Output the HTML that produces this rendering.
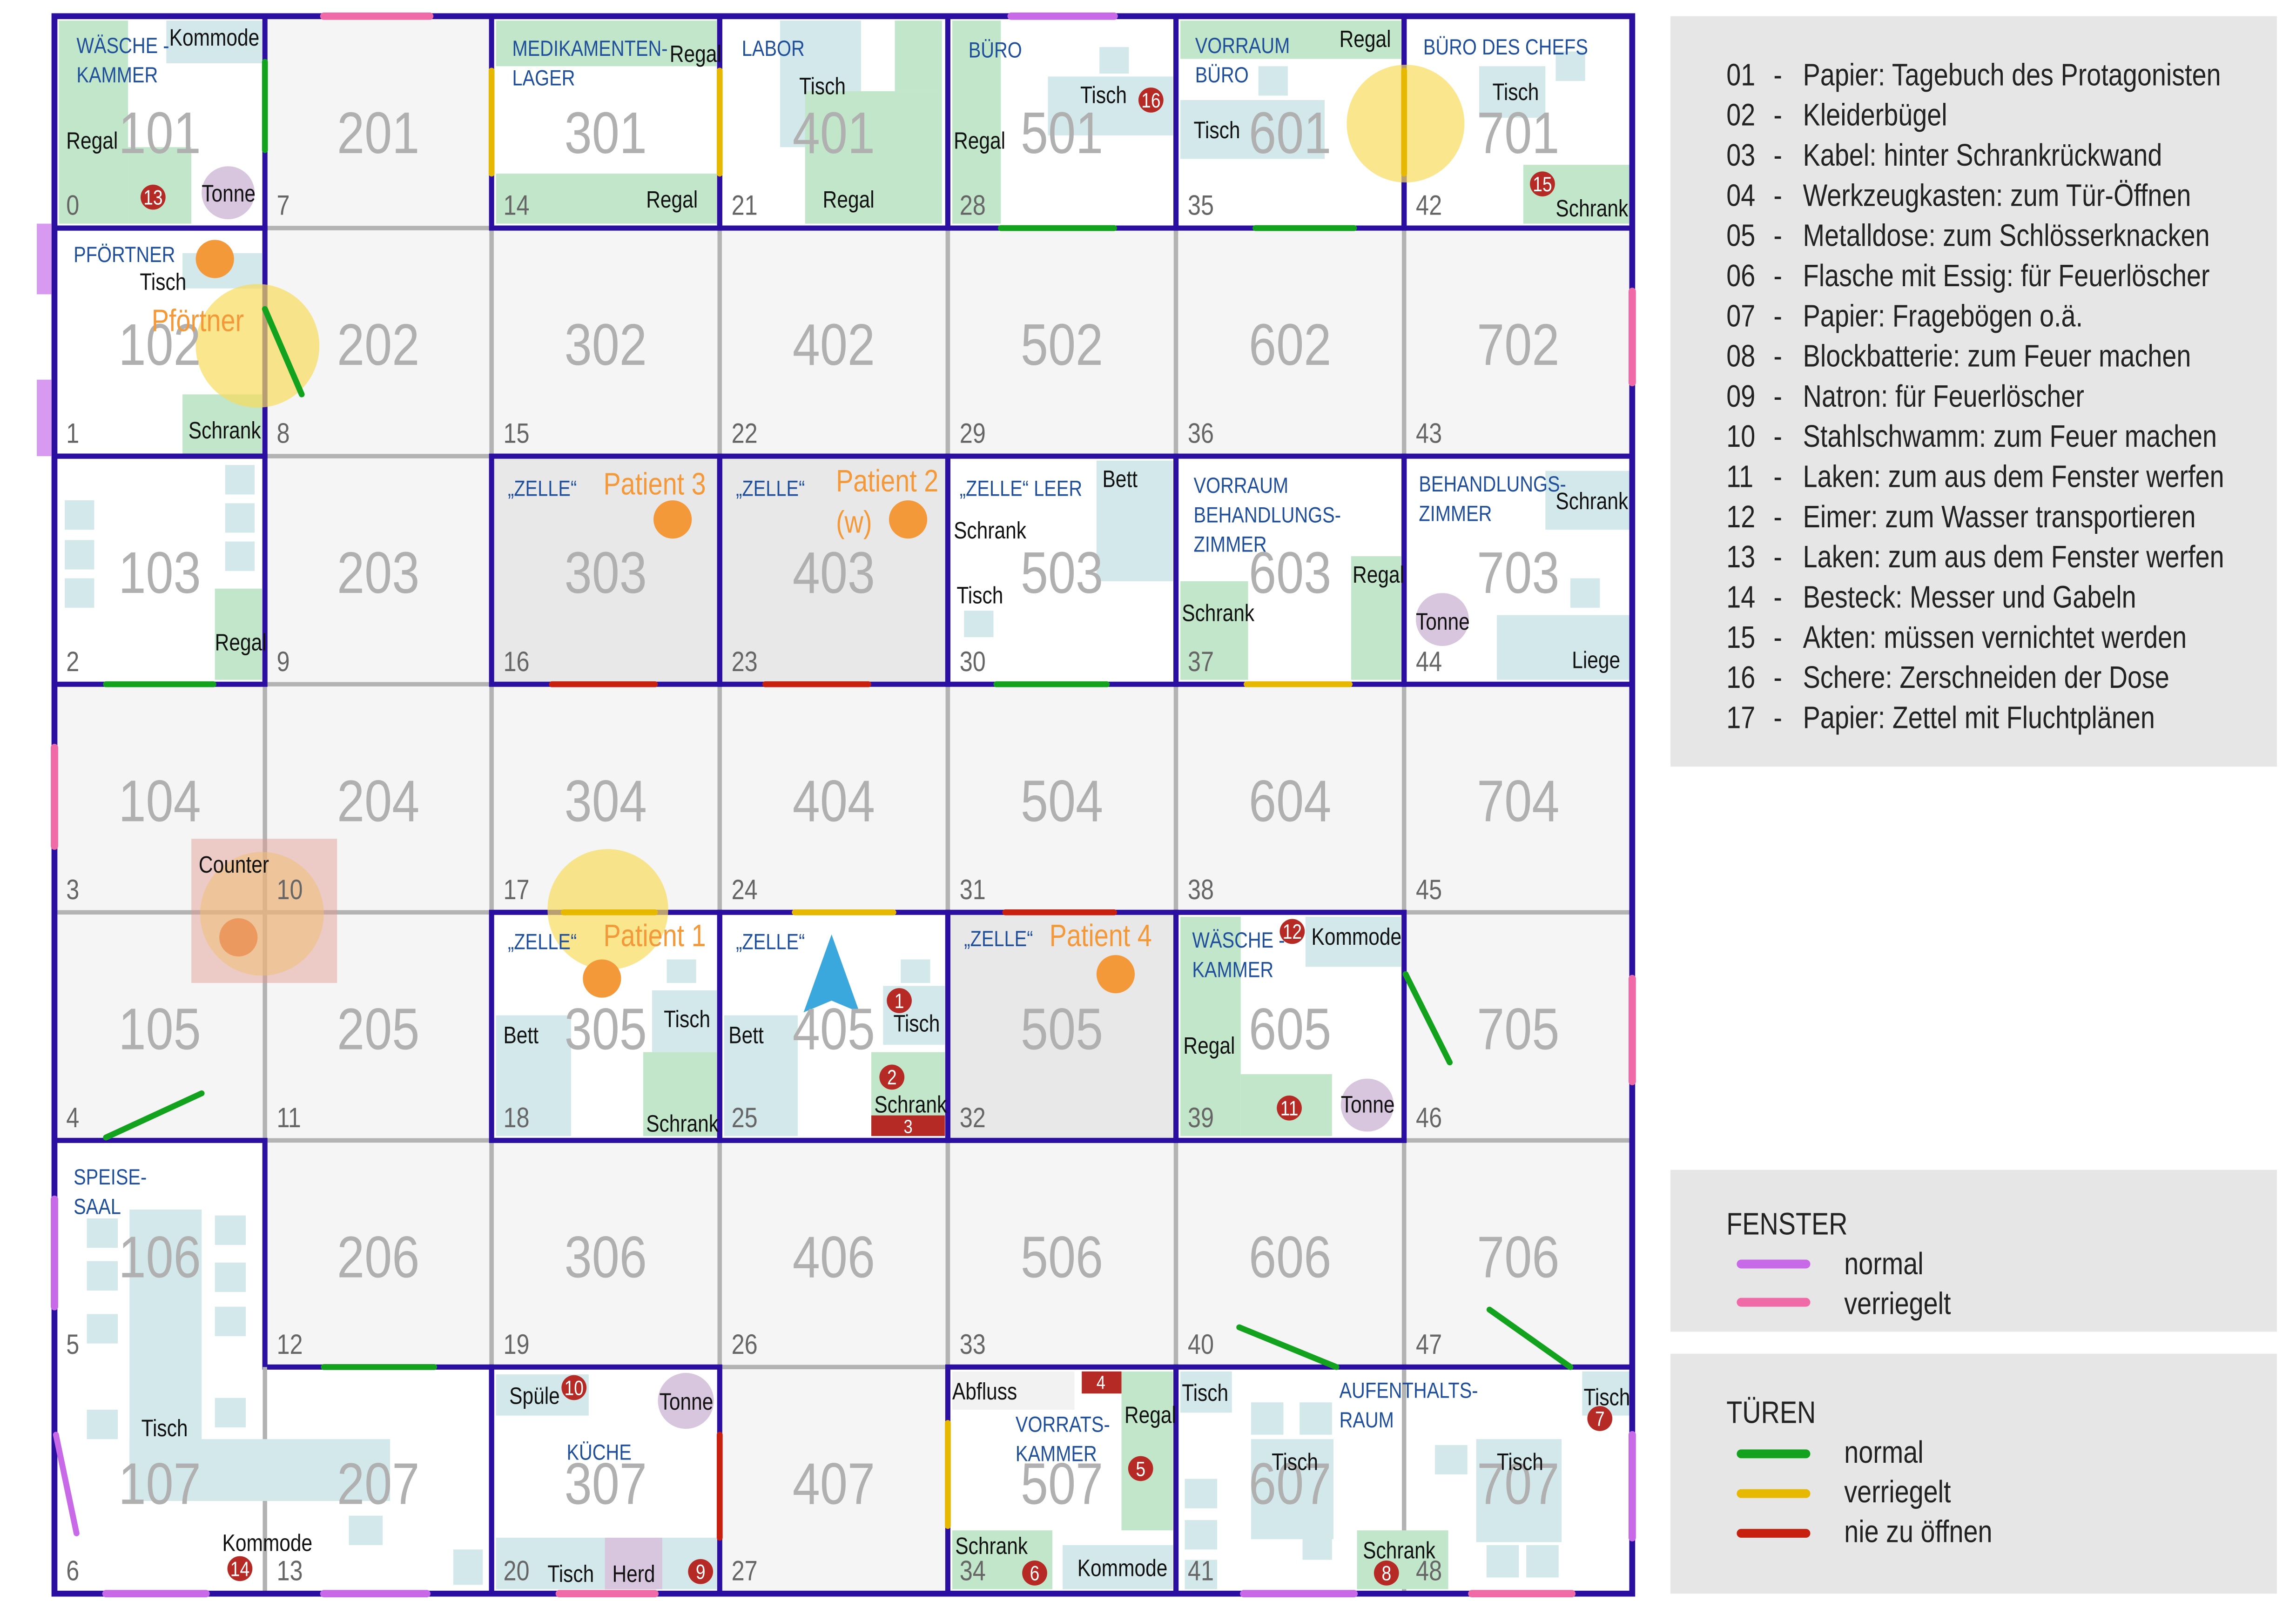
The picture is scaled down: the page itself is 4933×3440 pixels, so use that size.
<!DOCTYPE html>
<html><head><meta charset="utf-8"><style>
html,body{margin:0;padding:0;background:#fff;}
svg{display:block;}
text{font-family:"Liberation Sans Narrow","Liberation Sans",sans-serif;}
</style></head><body>
<svg id="plan" xmlns="http://www.w3.org/2000/svg" width="4933" height="3440" viewBox="0 0 1560 1088" preserveAspectRatio="none">
<rect x="0" y="0" width="1560" height="1088" fill="#fff"/>
<g id="cells"></g><g id="rooms"></g><g id="furn"></g><g id="walls"></g><g id="marks"></g><g id="labels"></g><g id="legend"></g>
</svg>
<script>
const NS='http://www.w3.org/2000/svg';
const colX=[37,180,334,489,644,799,954,1109];
const rowY=[11,155,310,465,620,775,929,1083];
const enclosed=[[0,0,1,1,'#fff'],[0,1,1,1,'#fff'],[0,2,1,1,'#fff'],[2,0,1,1,'#fff'],[3,0,1,1,'#fff'],[4,0,1,1,'#fff'],[5,0,1,1,'#fff'],[6,0,1,1,'#fff'],
[2,2,1,1,'#e8e8e8'],[3,2,1,1,'#e8e8e8'],[4,2,1,1,'#fff'],[5,2,1,1,'#fff'],[6,2,1,1,'#fff'],
[2,4,1,1,'#fff'],[3,4,1,1,'#fff'],[4,4,1,1,'#e8e8e8'],[5,4,1,1,'#fff'],
[2,6,1,1,'#fff'],[4,6,1,1,'#fff'],[5,6,2,1,'#fff']];
const furniture=[
['g',40,14,47,138],['g',87,100,43,52],['b',113,14,65,29],
['b',124,172,54,24],['g',124,268,54,41],
['b',44,340,20,20],['b',44,367,20,20],['b',44,393,20,20],['b',153,316,20,20],['b',153,342,20,20],['b',153,368,20,20],['g',146,400,32,62],
['g',337,14,150,31],['g',337,118,150,34],
['b',530,14,55,86],['g',547,62,93,90],['g',608,14,32,48],
['g',647,14,33,138],['b',747,32,20,18],['b',712,52,85,40],
['g',802,14,150,26],['b',855,45,20,20],['b',802,68,98,40],
['b',1005,45,45,35],['b',1057,35,20,20],['g',1035,112,72,40],
['b',745,313,52,82],['b',655,415,20,18],
['g',802,395,46,67],['g',918,378,34,84],
['b',1050,320,57,40],['b',1067,393,20,20],['b',1017,418,90,44],
['b',337,690,51,82],['b',453,652,20,16],['b',443,673,44,42],['g',437,715,50,57],
['b',492,690,50,82],['b',612,652,20,16],['b',600,670,42,40],['g',592,715,50,45],['r',592,758,50,14],
['g',802,623,41,149],['g',843,730,62,42],['b',887,623,65,34],
['b',88,822,49,198],['b',88,978,177,42],['b',59,828,21,20],['b',59,857,21,20],['b',59,893,21,20],['b',59,958,21,20],['b',146,826,21,20],['b',146,858,21,20],['b',146,888,21,20],['b',146,950,21,20],['b',237,1030,23,20],['b',308,1053,20,24],
['b',337,934,63,28],['b',337,1045,150,35],['p',411,1045,39,35],
['a',647,932,83,26],['r',735,932,27,15],['g',762,932,35,108],['g',647,1040,68,40],['b',722,1050,75,30],
['b',802,932,35,28],['b',850,953,22,22],['b',883,953,22,22],['b',850,978,56,68],['b',805,1005,22,20],['b',805,1033,22,20],['b',805,1060,22,20],['b',885,1040,20,20],['g',922,1040,62,40],['b',1003,978,58,70],['b',975,982,22,20],['b',1010,1050,22,22],['b',1037,1050,22,22],['b',1075,932,32,30]
];
const circles=[[155,131,18,'#d8c6de',1],[146,176,13,'#f4993a',1],[175,235,42,'#f7dc5c',0.7],[955,84,40,'#f7dc5c',0.7],
[457,353,13,'#f4993a',1],[617,353,13,'#f4993a',1],[980,421,18,'#d8c6de',1],
[178,621,42,'#f7dc5c',0.55],[162,637,13,'#f4993a',1],[413,618,41,'#f7dc5c',0.7],[409,665,13,'#f4993a',1],[758,662,13,'#f4993a',1],
[929,751,18,'#d8c6de',1],[466,952,19,'#d8c6de',1]];
const badges=[[104,134,'13'],[782,68,'16'],[1048,125,'15'],[611,680,'1'],[606,732,'2'],[878,633,'12'],[876,753,'11'],[163,1066,'14'],[390,943,'10'],[476,1068,'9'],[775,998,'5'],[703,1069,'6'],[942,1069,'8'],[1087,964,'7']];
const G='#12a21e',Y='#e6b800',R='#c8200e',P='#c86ae8',K='#f06aa8';
const lines=[[180,42,180,102,G,4],[180,210,205,268,G,4],[72,465,145,465,G,4],[680,155,757,155,G,4],[853,155,920,155,G,4],[677,465,752,465,G,4],
[334,48,334,118,Y,4],[489,48,489,118,Y,4],[954,48,954,118,Y,4],[847,465,917,465,Y,4],[540,620,607,620,Y,4],[383,620,445,620,Y,4],[644,967,644,1037,Y,4],
[375,465,445,465,R,4],[520,465,590,465,R,4],[683,620,757,620,R,4],[489,975,489,1045,R,4],
[72,773,137,743,G,4],[955,662,985,722,G,4],[220,929,295,929,G,4],[842,902,908,929,G,4],[1012,890,1067,929,G,4],
[220,11,292,11,K,5],[1109,198,1109,260,K,5],[37,508,37,575,K,5],[1109,665,1109,735,K,5],[380,1083,445,1083,K,5],[1000,1083,1068,1083,K,5],[72,1083,140,1083,P,5],[220,1083,290,1083,P,5],
[687,11,757,11,P,5],[37,815,37,888,P,5],[38,975,52,1042,P,4],[845,1083,920,1083,P,5],[1109,975,1109,1045,P,5]];
const BL='#1f4e9a',BK='#111',OR='#f4993a';
const texts=[
[52,36,14,BL,'WÄSCHE -'],[52,56,14,BL,'KAMMER'],[115,31,15,BK,'Kommode'],[45,101,15,BK,'Regal'],[137,137,15,BK,'Tonne'],
[50,178,14,BL,'PFÖRTNER'],[95,197,15,BK,'Tisch'],[103,225,20,OR,'Pförtner'],[128,298,15,BK,'Schrank'],[146,442,15,BK,'Regal'],
[348,38,14,BL,'MEDIKAMENTEN-'],[348,58,14,BL,'LAGER'],[455,42,15,BK,'Regal'],[439,141,15,BK,'Regal'],
[504,38,14,BL,'LABOR'],[543,64,15,BK,'Tisch'],[559,141,15,BK,'Regal'],
[658,39,14,BL,'BÜRO'],[648,101,15,BK,'Regal'],[734,70,15,BK,'Tisch'],
[812,36,14,BL,'VORRAUM'],[812,56,14,BL,'BÜRO'],[910,32,15,BK,'Regal'],[811,94,15,BK,'Tisch'],
[967,37,14,BL,'BÜRO DES CHEFS'],[1014,68,15,BK,'Tisch'],[1057,147,15,BK,'Schrank'],
[345,337,14,BL,'„ZELLE“'],[410,336,20,OR,'Patient 3'],[500,337,14,BL,'„ZELLE“'],[568,334,20,OR,'Patient 2'],[568,362,20,OR,'(w)'],
[652,337,14,BL,'„ZELLE“ LEER'],[749,331,15,BK,'Bett'],[648,366,15,BK,'Schrank'],[650,410,15,BK,'Tisch'],
[811,335,14,BL,'VORRAUM'],[811,355,14,BL,'BEHANDLUNGS-'],[811,375,14,BL,'ZIMMER'],[803,422,15,BK,'Schrank'],[919,396,15,BK,'Regal'],
[964,334,14,BL,'BEHANDLUNGS-'],[964,354,14,BL,'ZIMMER'],[1057,346,15,BK,'Schrank'],[962,428,15,BK,'Tonne'],[1068,454,15,BK,'Liege'],
[135,593,15,BK,'Counter'],
[345,645,14,BL,'„ZELLE“'],[410,643,20,OR,'Patient 1'],[342,709,15,BK,'Bett'],[451,698,15,BK,'Tisch'],[439,769,15,BK,'Schrank'],
[500,645,14,BL,'„ZELLE“'],[495,709,15,BK,'Bett'],[607,701,15,BK,'Tisch'],[594,756,15,BK,'Schrank'],
[655,643,14,BL,'„ZELLE“'],[713,643,20,OR,'Patient 4'],
[810,644,14,BL,'WÄSCHE -'],[810,664,14,BL,'KAMMER'],[891,642,15,BK,'Kommode'],[804,716,15,BK,'Regal'],[911,756,15,BK,'Tonne'],
[50,805,14,BL,'SPEISE-'],[50,825,14,BL,'SAAL'],[96,976,15,BK,'Tisch'],[151,1054,15,BK,'Kommode'],
[346,954,15,BK,'Spüle'],[448,958,15,BK,'Tonne'],[385,992,14,BL,'KÜCHE'],[372,1075,15,BK,'Tisch'],[416,1075,15,BK,'Herd'],
[647,951,15,BK,'Abfluss'],[690,973,14,BL,'VORRATS-'],[690,993,14,BL,'KAMMER'],[764,967,15,BK,'Regal'],[649,1056,15,BK,'Schrank'],[732,1071,15,BK,'Kommode'],
[803,952,15,BK,'Tisch'],[910,950,14,BL,'AUFENTHALTS-'],[910,970,14,BL,'RAUM'],[864,999,15,BK,'Tisch'],[1017,999,15,BK,'Tisch'],[926,1059,15,BK,'Schrank'],[1076,955,15,BK,'Tisch']];
const itemNums=['01','02','03','04','05','06','07','08','09','10','11','12','13','14','15','16','17'];
const itemTexts=['Papier: Tagebuch des Protagonisten','Kleiderbügel','Kabel: hinter Schrankrückwand','Werkzeugkasten: zum Tür-Öffnen','Metalldose: zum Schlösserknacken','Flasche mit Essig: für Feuerlöscher','Papier: Fragebögen o.ä.','Blockbatterie: zum Feuer machen','Natron: für Feuerlöscher','Stahlschwamm: zum Feuer machen','Laken: zum aus dem Fenster werfen','Eimer: zum Wasser transportieren','Laken: zum aus dem Fenster werfen','Besteck: Messer und Gabeln','Akten: müssen vernichtet werden','Schere: Zerschneiden der Dose','Papier: Zettel mit Fluchtplänen'];

function el(tag,a,parent){const e=document.createElementNS(NS,tag);for(const k in a)e.setAttribute(k,a[k]);document.getElementById(parent).appendChild(e);return e;}
function tx(x,y,size,fill,str,parent,anchor){
  const e=el('text',{x:0,y:0,'font-size':size,fill:fill,'text-anchor':anchor||'start',transform:'translate('+x+','+y+') scale(0.84,1)'},parent);
  e.textContent=str;return e;}
for(let c=0;c<7;c++)for(let r=0;r<7;r++){
  const x=colX[c],y=rowY[r],w=colX[c+1]-x,h=rowY[r+1]-y;
  const cell=el('rect',{x:x,y:y,width:w,height:h,fill:'#f5f5f5',stroke:'#b3b3b3','stroke-width':3},'cells');
  
  
}
for(const e of enclosed){
  const x=colX[e[0]],y=rowY[e[1]],w=colX[e[0]+e[2]]-x,h=rowY[e[1]+e[3]]-y;
  const rm=el('rect',{x:x,y:y,width:w,height:h,fill:e[4]},'rooms');
  
  
  const wl=el('rect',{x:x,y:y,width:w,height:h,fill:'none',stroke:'#2a0fa0','stroke-width':3.5},'walls');
  
  
}
// dining hall L-shape (106,107,207)
const dh=el('path',{d:'M37,775 L180,775 L180,929 L334,929 L334,1083 L37,1083 Z',fill:'#fff',stroke:'#2a0fa0','stroke-width':3.5},'rooms');


const cols={g:'#c2e6c9',b:'#d3e8ea',p:'#d8c6de',r:'#b52a25',a:'#f2f2f2'};
for(const g of [[954,929,954,1083],[180,929,180,1083]]){
  const gl=el('line',{x1:g[0],y1:g[1],x2:g[2],y2:g[3],stroke:'#b3b3b3','stroke-width':3},'furn');
  
  
}
for(const f of furniture){
  const fr=el('rect',{x:f[1],y:f[2],width:f[3],height:f[4],fill:cols[f[0]]},'furn');
  
  
}
const ob=el('rect',{x:37,y:11,width:1072,height:1072,fill:'none',stroke:'#2a0fa0','stroke-width':4},'walls');


for(let c=0;c<7;c++)for(let r=0;r<7;r++){
  const cx=(colX[c]+colX[c+1])/2,y=rowY[r];
  const t=tx(cx,y+93,40,'#b0b0b0',String((c+1)*100+r+1),'labels','middle');
  
  
  const s=tx(colX[c]+8,rowY[r+1]-9,19,'#666',String(c*7+r),'labels');
  
  
}
for(const c of circles){
  const ci=el('circle',{cx:c[0],cy:c[1],r:c[2],fill:c[3],'fill-opacity':c[4]},'marks');
  
  
}
const cnt=el('rect',{x:130,y:570,width:99,height:98,fill:'#e39a90','fill-opacity':0.45},'marks');


const arr=el('polygon',{points:'565,635 546,688 565,680 584,688',fill:'#3aa8dc'},'marks');


for(const l of lines){
  const ln=el('line',{x1:l[0],y1:l[1],x2:l[2],y2:l[3],stroke:l[4],'stroke-width':l[5],'stroke-linecap':'round'},'marks');
  
  
}
for(const w of [[27,152,37,200],[27,258,37,310]]){
  const wr=el('rect',{x:w[0]-2,y:w[1],width:10,height:w[3]-w[1],fill:'#d89af0'},'marks');
  
  
}
for(const t of texts){
  const e=tx(t[0],t[1],t[2]+1,t[3],t[4],'labels');
  
  
}
for(const b of badges){
  const bc=el('circle',{cx:b[0],cy:b[1],r:8.5,fill:'#b52a25'},'labels');
  
  
  const bt=tx(b[0],b[1]+5,14,'#fff',b[2],'labels','middle');
  
  
}
const b3=tx(617,770,13,'#fff','3','labels','middle');


const b4=tx(748,944,13,'#fff','4','labels','middle');


for(const p of [[1135,11,412,510],[1135,795,412,110],[1135,920,412,163]]){
  const pr=el('rect',{x:p[0],y:p[1],width:p[2],height:p[3],fill:'#e6e6e6'},'legend');
  
  
}
for(let i=0;i<itemNums.length;i++){
  const y=58+i*27.3;
  const n=tx(1173,y,21,'#222',itemNums[i],'legend');
  
  
  const d=tx(1205,y,21,'#222','-','legend');
  
  
  const m=tx(1225,y,21,'#222',itemTexts[i],'legend');
  
  
}
const legTexts=[[1173,839,'FENSTER'],[1253,866,'normal'],[1253,893,'verriegelt'],[1173,967,'TÜREN'],[1253,994,'normal'],[1253,1021,'verriegelt'],[1253,1048,'nie zu öffnen']];
for(const t of legTexts){
  const lt=tx(t[0],t[1],21,'#222',t[2],'legend');
  
  
}
const legLines=[[859,P],[885,K],[988,G],[1015,Y],[1042,R]];
for(const l of legLines){
  const ll=el('line',{x1:1183,y1:l[0],x2:1227,y2:l[0],stroke:l[1],'stroke-width':6,'stroke-linecap':'round'},'legend');
  
  
}
</script>
</body></html>
